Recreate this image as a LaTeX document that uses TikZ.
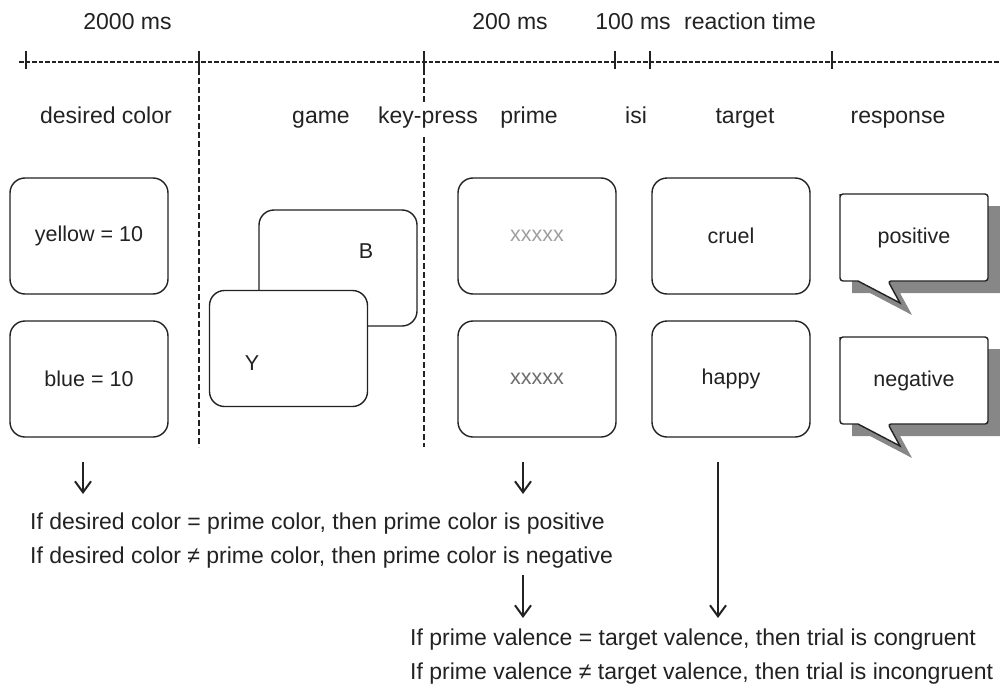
\documentclass[tikz,border=0pt]{standalone}
\usepackage{fontspec}
\setmainfont{Liberation Sans}
\usetikzlibrary{arrows.meta}
\definecolor{ink}{HTML}{222222}
\definecolor{shadowgray}{HTML}{878787}
\definecolor{xlight}{HTML}{A0A0A0}
\definecolor{xdark}{HTML}{6E6E6E}
\tikzset{
  lab/.style={font=\fontsize{23}{27}\selectfont, text=ink, anchor=base, inner sep=0pt},
  note/.style={font=\fontsize{23}{27}\selectfont, text=ink, anchor=base west, inner sep=0pt},
  card/.style={draw=ink, rounded corners=15pt, minimum width=158pt, minimum height=116pt,
    line width=1.4pt, fill=white, inner sep=0pt, font=\fontsize{21.5}{25}\selectfont, text=ink},
  cardtext/.style={font=\fontsize{21.5}{25}\selectfont, text=ink, inner sep=0pt},
  timeline/.style={draw=ink, line width=1.4pt, dash pattern=on 4.5pt off 2pt},
  tick/.style={draw=ink, line width=1.6pt},
  divider/.style={draw=ink, line width=2.2pt, dash pattern=on 6pt off 3pt},
  shortarrow/.style={draw=ink, line width=2pt, -{Straight Barb[length=11pt,width=16pt,line width=2pt]}},
  bubbleline/.style={draw=ink, line width=1.4pt, fill=white},
}
\newcommand{\speechbubble}[3]{%
  \begin{scope}[shift={(#1)}]
    \fill[shadowgray] (12,12) -- (160,12) -- (160,99) -- (60,99) -- (72,121) -- (30,99) -- (12,99) -- cycle;
    \path[bubbleline] (0,3) [rounded corners=3pt] -- (0,0) -- (148,0) -- (148,87) -- (48,87)
      [sharp corners] -- (60,109) -- (18,87) [rounded corners=3pt] -- (0,87) -- cycle;
    \node[cardtext] (#2) at (74,43.5) {#3};
  \end{scope}}
\begin{document}
\begin{tikzpicture}[x=1pt,y=-1pt]
\useasboundingbox (0,0) rectangle (1000,690);

% top labels
\node[lab] (t2000) at (127.5,30) {2000 ms};
\node[lab] (t200) at (510,30) {200 ms};
\node[lab] (t100) at (633,30) {100 ms};
\node[lab] (trt) at (750,30) {reaction time};

% timeline
\coordinate (tl0) at (19,62);
\coordinate (tl1) at (1000,62);
\path[timeline] (tl0) -- (tl1);
\foreach \xx/\nm in {26/k0,199/k1,424/k2,615/k3,650/k4,832/k5}{
  \coordinate (\nm t) at (\xx,51);
  \coordinate (\nm b) at (\xx,69);
  \path[tick] (\nm t) -- (\nm b);
}

% phase labels
\node[lab] (ldes) at (106,124) {desired color};
\node[lab] (lgame) at (321,124) {game};
\node[lab] (lkey) at (428,124) {key-press};
\node[lab] (lprime) at (529,124) {prime};
\node[lab] (lisi) at (636,124) {isi};
\node[lab] (ltarget) at (745,124) {target};
\node[lab] (lresp) at (898,124) {response};

% vertical dividers
\coordinate (d1a) at (199,69);
\coordinate (d1b) at (199,447);
\path[divider] (d1a) -- (d1b);
\coordinate (d2a) at (424,69);
\coordinate (d2b) at (424,103);
\coordinate (d2c) at (424,137);
\coordinate (d2d) at (424,447);
\path[divider] (d2a) -- (d2b);
\path[divider] (d2c) -- (d2d);

% desired color cards
\node[card] (yellow) at (89,236) {yellow = 10};
\node[card] (blue) at (89,379) {blue = 10};

% game cards
\node[card] (gameB) at (338,268) {};
\node[cardtext] (letB) at (366,251) {B};
\node[card] (gameY) at (288.5,348.5) {};
\node[cardtext] (letY) at (252,363) {Y};

% prime cards
\node[card, text=xlight] (prime1) at (537,236) {xxxxx};
\node[card, text=xdark] (prime2) at (537,379) {xxxxx};

% target cards
\node[card] (target1) at (731,236) {cruel};
\node[card] (target2) at (731,379) {happy};

% response bubbles
\speechbubble{840,194}{resp1}{positive}
\speechbubble{840,337}{resp2}{negative}

% bottom rules
\node[note] (rule1) at (30,529) {If desired color = prime color, then prime color is positive};
\node[note] (rule2) at (30,563) {If desired color ≠ prime color, then prime color is negative};
\node[note] (rule3) at (410,645) {If prime valence = target valence, then trial is congruent};
\node[note] (rule4) at (410,679) {If prime valence ≠ target valence, then trial is incongruent};

% arrows
\coordinate (a1s) at (83,462);
\coordinate (a1e) at (83,494);
\coordinate (a2s) at (523,462);
\coordinate (a2e) at (523,494);
\coordinate (a3s) at (523,575);
\coordinate (a3e) at (523,618);
\coordinate (a4s) at (718,462);
\coordinate (a4e) at (718,618);
\draw[shortarrow] (a1s) -- (a1e);
\draw[shortarrow] (a2s) -- (a2e);
\draw[shortarrow] (a3s) -- (a3e);
\draw[shortarrow, line width=2.4pt] (a4s) -- (a4e);
\end{tikzpicture}
\end{document}
